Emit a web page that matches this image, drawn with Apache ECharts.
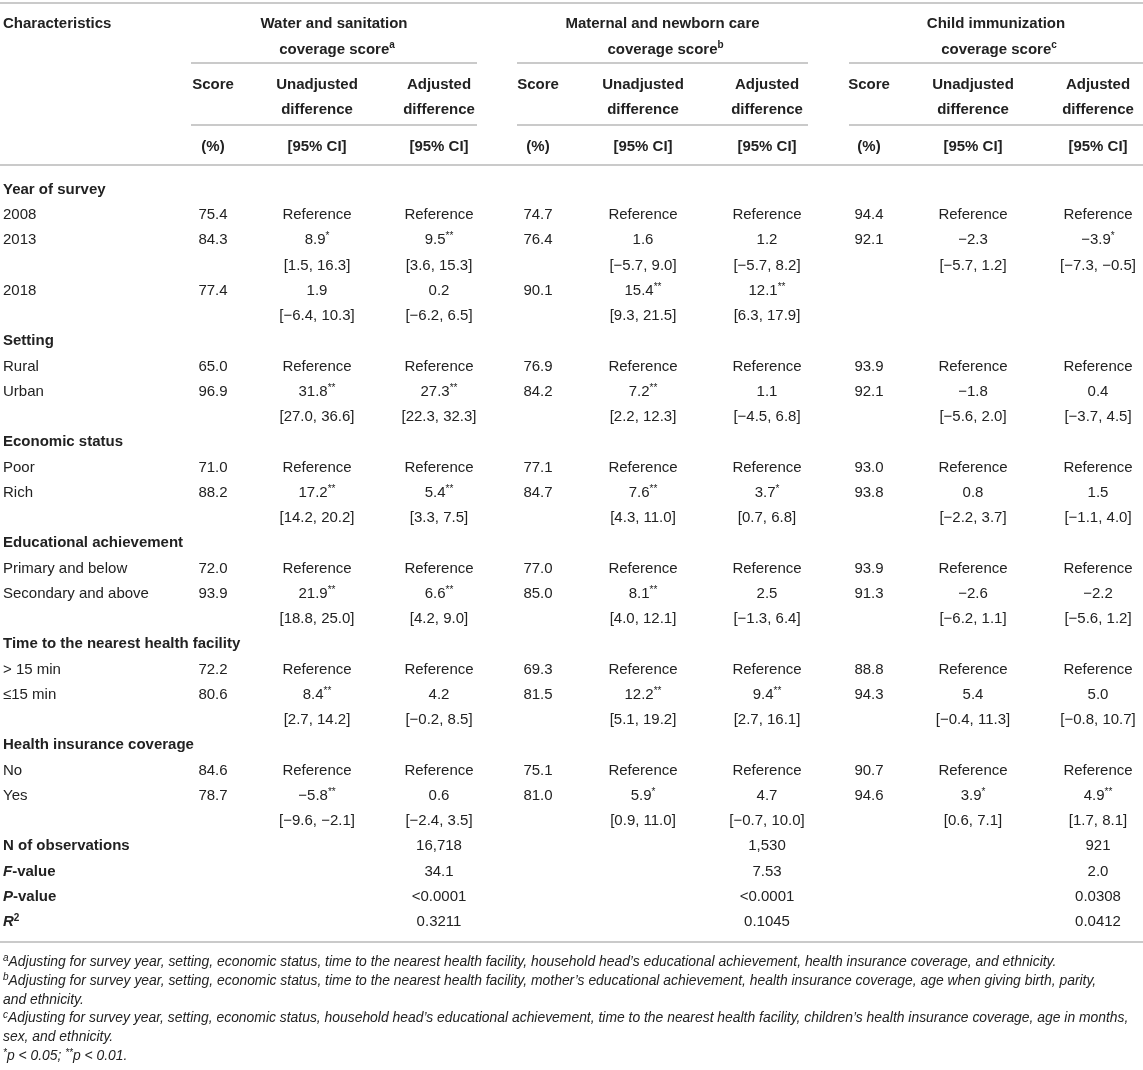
<!DOCTYPE html>
<html>
<head>
<meta charset="utf-8">
<script src="https://cdn.jsdelivr.net/npm/echarts@6/dist/echarts.min.js"></script>
<style>
  html, body { margin: 0; padding: 0; background: #fff; }
  #table { width: 1143px; height: 1070px; }
</style>
</head>
<body>
<div id="table"></div>
<script>
// row labels of the body
const characteristics = [
  'Year of survey', '2008', '2013', '', '2018', '',
  'Setting', 'Rural', 'Urban', '',
  'Economic status', 'Poor', 'Rich', '',
  'Educational achievement', 'Primary and below', 'Secondary and above', '',
  'Time to the nearest health facility', '> 15 min', '≤15 min', '',
  'Health insurance coverage', 'No', 'Yes', ''
]
const groupRows = [0, 6, 10, 14, 18, 22]

const waterScore = ['', '75.4', '84.3', '', '77.4', '', '', '65.0', '96.9', '', '', '71.0', '88.2', '', '', '72.0', '93.9', '', '', '72.2', '80.6', '', '', '84.6', '78.7', '']
const waterUnadj = ['', 'Reference', '8.9*', '[1.5, 16.3]', '1.9', '[−6.4, 10.3]', '', 'Reference', '31.8**', '[27.0, 36.6]', '', 'Reference', '17.2**', '[14.2, 20.2]', '', 'Reference', '21.9**', '[18.8, 25.0]', '', 'Reference', '8.4**', '[2.7, 14.2]', '', 'Reference', '−5.8**', '[−9.6, −2.1]']
const waterAdj = ['', 'Reference', '9.5**', '[3.6, 15.3]', '0.2', '[−6.2, 6.5]', '', 'Reference', '27.3**', '[22.3, 32.3]', '', 'Reference', '5.4**', '[3.3, 7.5]', '', 'Reference', '6.6**', '[4.2, 9.0]', '', 'Reference', '4.2', '[−0.2, 8.5]', '', 'Reference', '0.6', '[−2.4, 3.5]']

const maternalScore = ['', '74.7', '76.4', '', '90.1', '', '', '76.9', '84.2', '', '', '77.1', '84.7', '', '', '77.0', '85.0', '', '', '69.3', '81.5', '', '', '75.1', '81.0', '']
const maternalUnadj = ['', 'Reference', '1.6', '[−5.7, 9.0]', '15.4**', '[9.3, 21.5]', '', 'Reference', '7.2**', '[2.2, 12.3]', '', 'Reference', '7.6**', '[4.3, 11.0]', '', 'Reference', '8.1**', '[4.0, 12.1]', '', 'Reference', '12.2**', '[5.1, 19.2]', '', 'Reference', '5.9*', '[0.9, 11.0]']
const maternalAdj = ['', 'Reference', '1.2', '[−5.7, 8.2]', '12.1**', '[6.3, 17.9]', '', 'Reference', '1.1', '[−4.5, 6.8]', '', 'Reference', '3.7*', '[0.7, 6.8]', '', 'Reference', '2.5', '[−1.3, 6.4]', '', 'Reference', '9.4**', '[2.7, 16.1]', '', 'Reference', '4.7', '[−0.7, 10.0]']

const childScore = ['', '94.4', '92.1', '', '', '', '', '93.9', '92.1', '', '', '93.0', '93.8', '', '', '93.9', '91.3', '', '', '88.8', '94.3', '', '', '90.7', '94.6', '']
const childUnadj = ['', 'Reference', '−2.3', '[−5.7, 1.2]', '', '', '', 'Reference', '−1.8', '[−5.6, 2.0]', '', 'Reference', '0.8', '[−2.2, 3.7]', '', 'Reference', '−2.6', '[−6.2, 1.1]', '', 'Reference', '5.4', '[−0.4, 11.3]', '', 'Reference', '3.9*', '[0.6, 7.1]']
const childAdj = ['', 'Reference', '−3.9*', '[−7.3, −0.5]', '', '', '', 'Reference', '0.4', '[−3.7, 4.5]', '', 'Reference', '1.5', '[−1.1, 4.0]', '', 'Reference', '−2.2', '[−5.6, 1.2]', '', 'Reference', '5.0', '[−0.8, 10.7]', '', 'Reference', '4.9**', '[1.7, 8.1]']

// model statistics, shown under the adjusted columns
const statLabels = ['N of observations', '{bi|F}-value', '{bi|P}-value', '{bi|R}{bsup|2}']
const waterStats = ['16,718', '34.1', '<0.0001', '0.3211']
const maternalStats = ['1,530', '7.53', '<0.0001', '0.1045']
const childStats = ['921', '2.0', '0.0308', '0.0412']

// header texts
const groupTitles = ['Water and sanitation', 'Maternal and newborn care', 'Child immunization']
const groupNotes = ['a', 'b', 'c']
const subHead1 = ['Score', 'Unadjusted', 'Adjusted']
const subHead2 = ['', 'difference', 'difference']
const subHead3 = ['(%)', '[95% CI]', '[95% CI]']

const footnotes = [
  '{sup|a}Adjusting for survey year, setting, economic status, time to the nearest health facility, household head’s educational achievement, health insurance coverage, and ethnicity.',
  '{sup|b}Adjusting for survey year, setting, economic status, time to the nearest health facility, mother’s educational achievement, health insurance coverage, age when giving birth, parity,',
  'and ethnicity.',
  '{sup|c}Adjusting for survey year, setting, economic status, household head’s educational achievement, time to the nearest health facility, children’s health insurance coverage, age in months,',
  'sex, and ethnicity.',
  '{sup|*}p < 0.05; {sup|**}p < 0.01.'
]

const layout = {
  colX: [3, 213, 317, 439, 538, 643, 767, 869, 973, 1098],
  spans: [[191, 477], [517, 808], [849, 1143]],
  rowH: 25.25,
  bodyTop: 177.2,
  headY: [23.5, 49.5, 84.5, 109.5, 146.5],
  rules: [3, 165, 942],
  subRules: [63, 125],
  noteY: [962, 981, 1000, 1018.5, 1037.5, 1056.5]
}

const FONT = '"Liberation Sans", Arial, Helvetica, sans-serif'
const INK = '#222'
const RULE = '#b8b8b8'

const richBody = {
  s: { fontSize: 10, fontFamily: FONT, fill: INK, verticalAlign: 'top', lineHeight: 10 },
  bi: { fontSize: 15, fontFamily: FONT, fontWeight: 'bold', fontStyle: 'italic', fill: INK, lineHeight: 18 },
  bsup: { fontSize: 10, fontFamily: FONT, fontWeight: 'bold', fill: INK, verticalAlign: 'top', lineHeight: 10 }
}

// put the stars as superscripts
const starred = t => t.replace(/(\*+)$/, '{s|$1}')

const columns = [characteristics.concat(statLabels),
  waterScore, waterUnadj, waterAdj.concat(waterStats),
  maternalScore, maternalUnadj, maternalAdj.concat(maternalStats),
  childScore, childUnadj, childAdj.concat(childStats)]
const nRows = characteristics.length + statLabels.length

let cells = []
columns.forEach((col, c) => {
  col.forEach((t, r) => {
    if (t === '') return
    const bold = c === 0 && (groupRows.includes(r) || r >= characteristics.length)
    cells.push({ c, r, text: c === 0 ? t : starred(t), bold })
  })
})

const chart = echarts.init(document.getElementById('table'), null, { renderer: 'canvas' })

let graphic = []
layout.rules.forEach(y => graphic.push({
  type: 'line', shape: { x1: 0, y1: y, x2: 1143, y2: y }, style: { stroke: RULE, lineWidth: 1.6 }
}))
layout.spans.forEach(sp => layout.subRules.forEach(y => graphic.push({
  type: 'line', shape: { x1: sp[0], y1: y, x2: sp[1], y2: y }, style: { stroke: RULE, lineWidth: 1.6 }
})))

const headText = (x, y, text, align) => ({
  type: 'text', x, y,
  style: {
    text, align: align || 'center', verticalAlign: 'middle', fill: INK, lineHeight: 18,
    font: 'bold 15px ' + FONT,
    rich: { sup: { fontSize: 10, fontWeight: 'bold', fontFamily: FONT, fill: INK, verticalAlign: 'top', lineHeight: 10 } }
  }
})
graphic.push(headText(layout.colX[0], layout.headY[0], 'Characteristics', 'left'))
groupTitles.forEach((g, i) => {
  const cx = (layout.spans[i][0] + layout.spans[i][1]) / 2
  graphic.push(headText(cx, layout.headY[0], g))
  graphic.push(headText(cx + 3, layout.headY[1], 'coverage score{sup|' + groupNotes[i] + '}'))
  ;[subHead1, subHead2, subHead3].forEach((arr, k) => {
    arr.forEach((t, j) => {
      if (t) graphic.push(headText(layout.colX[1 + i * 3 + j], layout.headY[2 + k], t))
    })
  })
})

footnotes.forEach((t, i) => graphic.push({
  type: 'text', x: 3, y: layout.noteY[i],
  style: {
    text: t, align: 'left', verticalAlign: 'middle', fill: INK, lineHeight: 17,
    font: 'italic 13.9px ' + FONT,
    rich: { sup: { fontSize: 10, fontStyle: 'italic', fontFamily: FONT, fill: INK, verticalAlign: 'top', lineHeight: 10 } }
  }
}))

const option = {
  animation: false,
  backgroundColor: '#fff',
  grid: { left: 0, width: 1143, top: layout.bodyTop, height: layout.rowH * nRows },
  xAxis: { type: 'value', min: 0, max: 1143, show: false },
  yAxis: {
    type: 'category', inverse: true, show: false,
    data: Array.from({ length: nRows }, (_, i) => String(i))
  },
  series: [{
    type: 'custom',
    coordinateSystem: 'cartesian2d',
    data: cells.map(d => [layout.colX[d.c], d.r]),
    renderItem: (params, api) => {
      const d = cells[params.dataIndex]
      const pt = api.coord([api.value(0), api.value(1)])
      return {
        type: 'text', x: pt[0], y: pt[1],
        style: {
          text: d.text,
          align: d.c === 0 ? 'left' : 'center',
          verticalAlign: 'middle',
          fill: INK, lineHeight: 18,
          font: (d.bold ? 'bold ' : '') + '15px ' + FONT,
          rich: richBody
        }
      }
    }
  }],
  graphic
}
chart.setOption(option)
</script>
</body>
</html>
